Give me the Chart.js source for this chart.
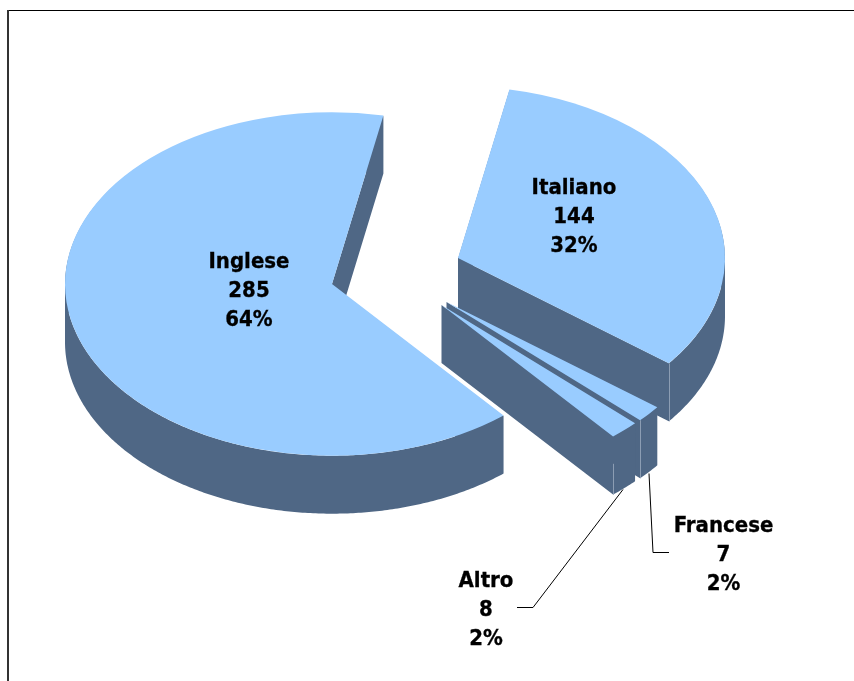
<!DOCTYPE html>
<html>
<head>
<meta charset="utf-8">
<style>html,body{margin:0;padding:0;background:#fff}canvas{display:block}</style>
<script src="https://cdn.jsdelivr.net/npm/chart.js@4"></script>
</head>
<body>
<canvas id="c" width="854" height="681"></canvas>
<script>
const categories = ['Italiano', 'Francese', 'Altro', 'Inglese'];
const values = [144, 7, 8, 285];
const percents = ['32%', '2%', '2%', '64%'];

// styling / layout of the exploded 3D look
const topColor = '#99CCFF';
const wallColor = '#4F6785';
const edgeColor = '#8C9DB3';
const tilt = 0.643;
const depth = 58;
const shiftX = [78, 66.5, 61.5, -48];
const shiftY = [-19, 25, 28, 7];
const edgeFrom = [0, 0, 0.47, null];
const labelX = [574, 723.5, 486, 249];
const labelY = [194, 532, 587, 268];
const lineStep = 29;
const leaders = [null, [[649,473],[653,552],[669,552]], [[623,489],[533,607],[517,607]], null];

function addQuad(ctx, a, b, d, inset) {
  // one swept quad of the wall, always wound the same way so the union is solid;
  // edges hidden under the top face start 1px lower so no dark hairline shows
  const q = [[a[0], a[1] + inset], [b[0], b[1] + inset], [b[0], b[1] + d], [a[0], a[1] + d]];
  let area = 0;
  q.forEach((p, i) => { const n = q[(i + 1) % 4]; area += p[0] * n[1] - n[0] * p[1]; });
  if (area < 0) q.reverse();
  ctx.moveTo(q[0][0], q[0][1]);
  for (let i = 1; i < 4; i++) ctx.lineTo(q[i][0], q[i][1]);
  ctx.closePath();
}

const pie3d = {
  id: 'pie3d',
  beforeDraw(chart) {
    const ctx = chart.ctx;
    ctx.save();
    ctx.fillStyle = '#fff';
    ctx.fillRect(0, 0, 854, 681);
    ctx.fillStyle = '#000';
    ctx.fillRect(7, 10, 847, 1);
    ctx.fillStyle = '#333';
    ctx.fillRect(7, 10, 2, 671);
    ctx.restore();
  },
  beforeDatasetsDraw(chart) {
    const ctx = chart.ctx;
    const arcs = chart.getDatasetMeta(0).data;
    arcs.forEach((arc, i) => {
      const cx = arc.x + shiftX[i];
      const cy = arc.y + shiftY[i];
      const rim = t => [cx + Math.cos(t) * arc.outerRadius, cy + Math.sin(t) * arc.outerRadius * tilt];
      // side wall: the slice outline swept downward
      ctx.save();
      ctx.fillStyle = wallColor;
      ctx.beginPath();
      const n = Math.ceil((arc.endAngle - arc.startAngle) / 0.01);
      let prev = rim(arc.startAngle);
      addQuad(ctx, [cx, cy], prev, depth, Math.cos(arc.startAngle) > 0 ? 1 : 0);
      for (let k = 1; k <= n; k++) {
        const t = arc.startAngle + (arc.endAngle - arc.startAngle) * k / n;
        const p = rim(t);
        addQuad(ctx, prev, p, depth, Math.sin(t) < 0 ? 1 : 0);
        prev = p;
      }
      addQuad(ctx, prev, [cx, cy], depth, Math.cos(arc.endAngle) < 0 ? 1 : 0);
      ctx.fill('nonzero');
      ctx.restore();
      // light corner line on the wall
      if (edgeFrom[i] !== null) {
        const p = rim(arc.endAngle);
        ctx.save();
        ctx.strokeStyle = edgeColor;
        ctx.lineWidth = 1;
        ctx.beginPath();
        ctx.moveTo(Math.round(p[0]) + 0.5, p[1] + depth * edgeFrom[i]);
        ctx.lineTo(Math.round(p[0]) + 0.5, p[1] + depth);
        ctx.stroke();
        ctx.restore();
      }
      // top face, drawn by the library's arc element
      ctx.save();
      ctx.translate(shiftX[i], shiftY[i] + arc.y);
      ctx.scale(1, tilt);
      ctx.translate(0, -arc.y);
      arc.draw(ctx);
      ctx.restore();
    });
    return false;
  },
  afterDraw(chart) {
    const ctx = chart.ctx;
    ctx.save();
    ctx.strokeStyle = '#000';
    ctx.lineWidth = 1;
    leaders.forEach(pts => {
      if (!pts) return;
      ctx.beginPath();
      pts.forEach((p, j) => j ? ctx.lineTo(p[0], p[1] + 0.5) : ctx.moveTo(p[0], p[1] + 0.5));
      ctx.stroke();
    });
    ctx.fillStyle = '#000';
    ctx.lineWidth = 0.3;
    ctx.font = 'bold 22px "DejaVu Sans Condensed", "DejaVu Sans"';
    ctx.textAlign = 'center';
    ctx.textBaseline = 'alphabetic';
    const put = (s, x, y) => { ctx.fillText(s, x, y); ctx.strokeText(s, x, y); };
    categories.forEach((name, i) => {
      put(name, labelX[i], labelY[i]);
      put(String(values[i]), labelX[i], labelY[i] + lineStep);
      put(percents[i], labelX[i], labelY[i] + 2 * lineStep);
    });
    ctx.restore();
  }
};

new Chart(document.getElementById('c'), {
  type: 'pie',
  data: {
    labels: categories,
    datasets: [{
      data: values,
      backgroundColor: topColor,
      borderWidth: 0,
      radius: 267
    }]
  },
  options: {
    responsive: false,
    animation: false,
    rotation: 11.1,
    layout: { padding: { top: 0, left: 0, right: 94, bottom: 127 } },
    plugins: { legend: { display: false }, tooltip: { enabled: false }, title: { display: false } }
  },
  plugins: [pie3d]
});
</script>
</body>
</html>
